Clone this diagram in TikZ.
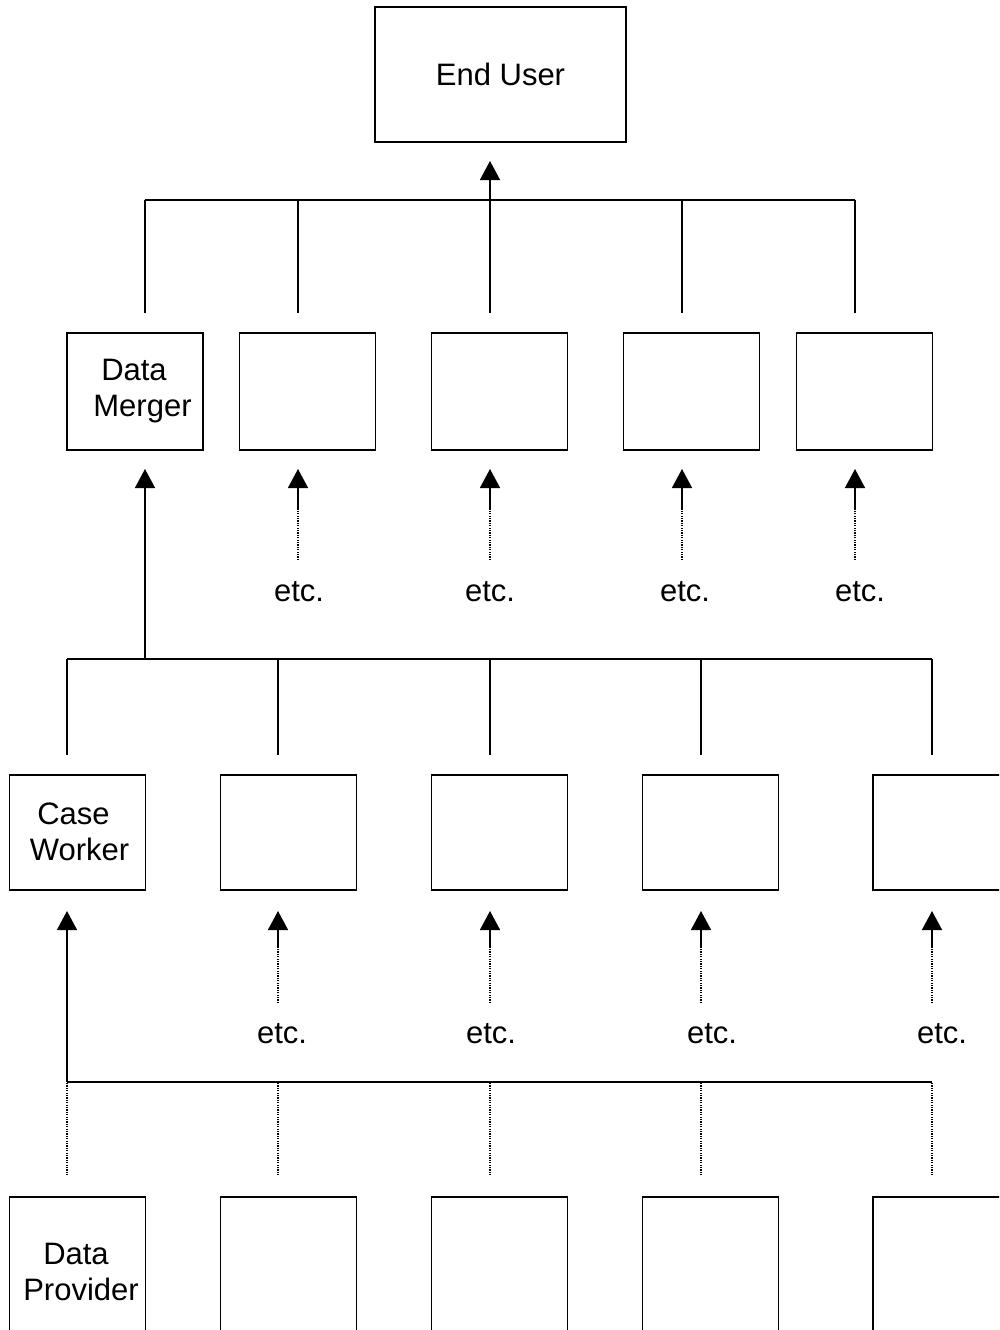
\documentclass[tikz,border=0pt]{standalone}
\usepackage{fontspec}
\setmainfont{Liberation Sans}
\usetikzlibrary{arrows.meta}
\begin{document}
\begin{tikzpicture}[x=1pt,y=-1pt,
  txt/.style={font=\fontsize{31}{36}\selectfont},
  box/.style={draw, line width=1.3pt, inner sep=0pt, align=center, txt},
  boxtext/.style={txt, inner sep=0pt, align=center},
  ln/.style={line width=1.5pt},
  arr/.style={ln, -{Triangle[width=20pt,length=19pt]}},
  dotln/.style={line width=1.2pt, dash pattern=on 1.2pt off 1.2pt},
  lbl/.style={txt, inner sep=0pt, anchor=base}]
\useasboundingbox (0,0) rectangle (999,1330);
\clip (0,0) rectangle (999,1330);
% End user
\node[box, minimum width=251pt, minimum height=135pt] (eu) at (500.5,74.5) {End User};
% Row 2
\foreach \n/\x in {a/135, b/307.5, c/499.5, d/691.5, e/864.5}
  \node[box, minimum width=136pt, minimum height=117pt] (r2\n) at (\x,391.5) {};
\node[boxtext] (dmtext) at (142.5,391.5) {Data\hspace*{17pt}\\Merger};
% Row 3
\foreach \n/\x in {a/77.5, b/288.5, c/499.5, d/710.5, e/941}
  \node[box, minimum width=136pt, minimum height=115pt] (r3\n) at (\x,832.5) {};
\node[boxtext] (cwtext) at (79.5,831.5) {Case\hspace*{12pt}\\Worker};
% Row 4
\foreach \n/\x in {a/77.5, b/288.5, c/499.5, d/710.5, e/941}
  \node[box, minimum width=136pt, minimum height=150pt] (r4\n) at (\x,1272) {};
\node[boxtext] (dptext) at (81,1271.5) {Data\hspace*{10pt}\\Provider};

% Top bus
\coordinate (t1) at (145,200);
\coordinate (t5) at (855,200);
\draw[ln] (t1) -- (t5);
\foreach \x in {145,298,682,855}
  \draw[ln] (\x,200) -- (\x,313);
\coordinate (tc) at (490,313);
\draw[arr] (tc) -- (490,161);

% Row 2 incoming
\foreach \n/\x/\ex in {b/298/299, c/490/490, d/682/685, e/855/860}{
  \node[lbl] (etc2\n) at (\ex,601) {etc.};
  \coordinate (d2\n) at (\x,560);
  \draw[dotln] (d2\n) -- (\x,508);
  \draw[arr] (\x,508) -- (\x,469);
}
% Middle bus
\draw[ln] (67,659) -- (932,659);
\coordinate (mdm) at (145,659);
\draw[arr] (mdm) -- (145,469);
\foreach \x in {67,278,490,701,932}
  \draw[ln] (\x,659) -- (\x,755);

% Row 3 incoming
\foreach \n/\x/\ex in {b/278/282, c/490/491, d/701/712, e/932/942}{
  \node[lbl] (etc3\n) at (\ex,1043) {etc.};
  \coordinate (d3\n) at (\x,1003);
  \draw[dotln] (d3\n) -- (\x,948);
  \draw[arr] (\x,948) -- (\x,911);
}
% Bottom bus
\draw[ln] (67,1082) -- (932,1082);
\coordinate (bcw) at (67,1082);
\draw[arr] (bcw) -- (67,911);
\foreach \x in {67,278,490,701,932}
  \draw[dotln] (\x,1083) -- (\x,1175);
\end{tikzpicture}
\end{document}
